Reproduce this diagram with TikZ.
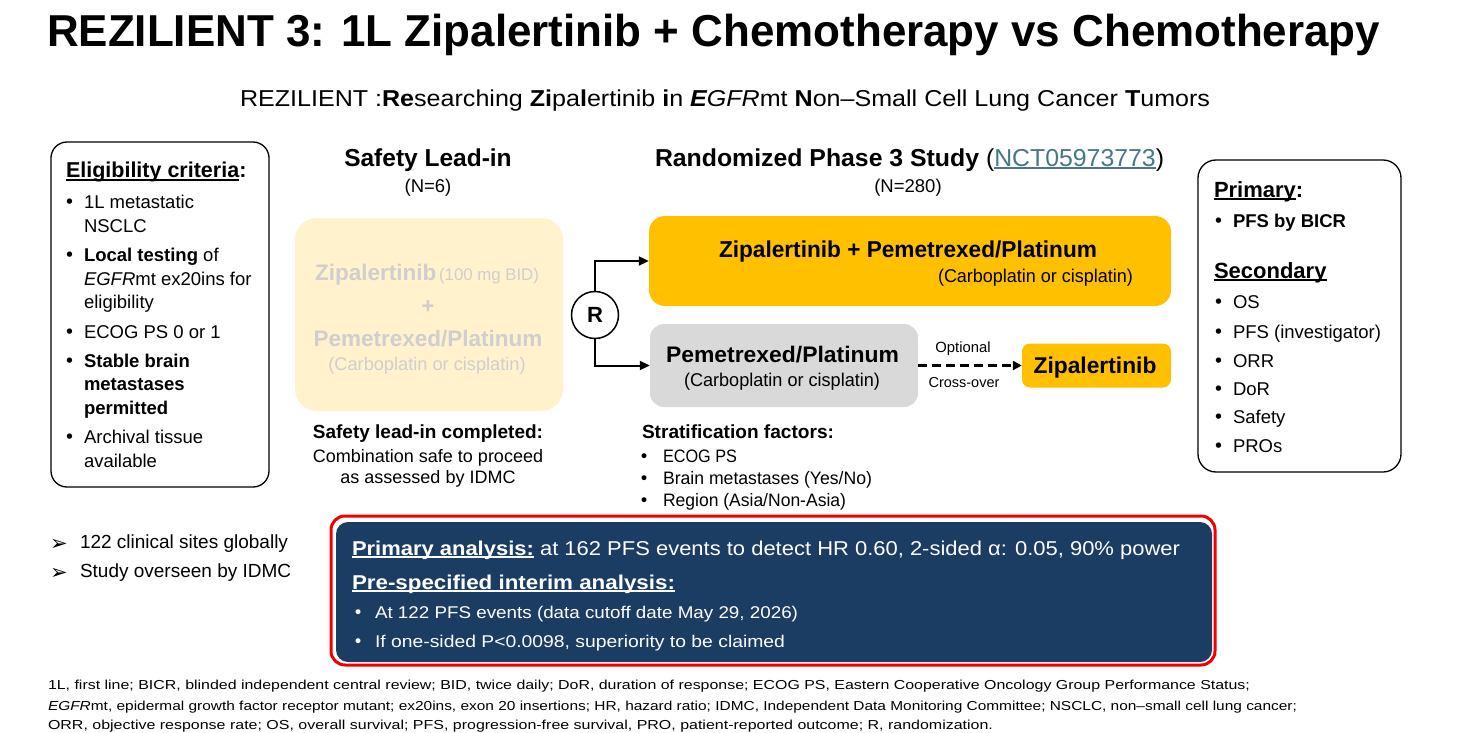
\documentclass[tikz,border=0pt]{standalone}
\usepackage{fontspec}
\setmainfont{Liberation Sans}
\setsansfont{Liberation Sans}
\newfontfamily\dejavu{DejaVu Sans}
\usepackage{graphicx}
\usetikzlibrary{arrows.meta}
\definecolor{gold}{HTML}{FFC000}
\definecolor{greybox}{HTML}{D9D9D9}
\definecolor{paleyellow}{HTML}{FFF2CC}
\definecolor{paletext}{HTML}{D0CECE}
\definecolor{navy}{HTML}{1B3C63}
\definecolor{redline}{HTML}{F00000}
\definecolor{link}{HTML}{467886}
\newcommand{\fs}[1]{\fontsize{#1}{#1}\selectfont}
\newcommand{\fw}[2]{\resizebox{#1pt}{\height}{#2}}
\newcommand{\bul}{{\dejavu •}}
\newsavebox\ulbox
\newcommand{\myul}[1]{\sbox\ulbox{#1}\rlap{\rule[-2.6pt]{\wd\ulbox}{1.4pt}}\usebox\ulbox}
\begin{document}
\begin{tikzpicture}[x=1pt,y=-1pt,
  txt/.style={inner sep=0pt, outer sep=0pt, anchor=base west},
  ctxt/.style={inner sep=0pt, outer sep=0pt, anchor=base},
  outlinebox/.style={draw=black, line width=1.3pt, rounded corners=16pt, inner sep=0pt},
  fillbox/.style={draw=none, inner sep=0pt},
  arr/.style={line width=2pt, -{Triangle[length=10pt,width=9pt]}},
  dasharr/.style={line width=3pt, dash pattern=on 9pt off 5pt, -{Triangle[length=9pt,width=9pt]}}]
\useasboundingbox (0,0) rectangle (1462,733);
\fill[white] (0,0) rectangle (1462,733);

% Title and subtitle
\node[txt] (title) at (47,47) {\fw{1333}{\fs{44.7}\bfseries REZILIENT 3: 1L Zipalertinib + Chemotherapy vs Chemotherapy}};
\node[txt] (subtitle) at (240,107) {\fw{970}{\fs{23}REZILIENT :\textbf{Re}searching \textbf{Zi}pa\textbf{l}ertinib \textbf{i}n \textit{\textbf{E}GFR}mt \textbf{N}on–Small Cell Lung Cancer \textbf{T}umors}};

% Eligibility box
\node[outlinebox, minimum width=218pt, minimum height=345pt] (elig) at (160,314.5) {};
\node[txt] (eligh) at (66,178) {\fs{21.5}\myul{\textbf{Eligibility criteria}}\textbf{:}};
\begin{scope}[every node/.style={txt}, font=\fs{18.5}]
\node (eb1) at (64,208) {\bul};
\node (e1) at (84,208) {1L metastatic};
\node (e2) at (84,232) {NSCLC};
\node (eb2) at (64,261) {\bul};
\node (e3) at (84,261) {\textbf{Local testing} of};
\node (e4) at (84,285) {\textit{EGFR}mt ex20ins for};
\node (e5) at (84,308) {eligibility};
\node (eb3) at (64,338) {\bul};
\node (e6) at (84,338) {ECOG PS 0 or 1};
\node (eb4) at (64,367) {\bul};
\node (e7) at (84,367) {\textbf{Stable brain}};
\node (e8) at (84,390) {\textbf{metastases}};
\node (e9) at (84,414) {\textbf{permitted}};
\node (eb5) at (64,443) {\bul};
\node (e10) at (84,443) {Archival tissue};
\node (e11) at (84,467) {available};
\end{scope}

% Safety lead-in
\node[ctxt] (slh) at (428,167) {\fs{24.5}\bfseries Safety Lead-in};
\node[ctxt] (sln) at (428,193) {\fs{18.5}(N=6)};
\node[fillbox, fill=paleyellow, rounded corners=22pt, minimum width=268pt, minimum height=193pt] (safe) at (429,314.5) {};
\begin{scope}[every node/.style={ctxt, text=paletext}]
\node (s1) at (427,280) {{\fs{22.5}\bfseries Zipalertinib} {\fs{16.8}(100 mg BID)}};
\node (s2) at (428,313) {\fs{22}\bfseries +};
\node (s3) at (428,346) {\fs{22.5}\bfseries Pemetrexed/Platinum};
\node (s4) at (427,370) {\fs{18.2}(Carboplatin or cisplatin)};
\end{scope}
\node[ctxt] (sc1) at (428,438) {\fs{19}\bfseries Safety lead-in completed:};
\node[ctxt] (sc2) at (428,462) {\fs{18}Combination safe to proceed};
\node[ctxt] (sc3) at (428,483) {\fs{18}as assessed by IDMC};

% Randomized study
\node[txt] (rh) at (655,166) {\fw{509}{\fs{24.5}\textbf{Randomized Phase 3 Study} (\textcolor{link}{\myul{NCT05973773}})}};
\node[ctxt] (rn) at (908,193) {\fs{18.5}(N=280)};
\node[fillbox, fill=gold, rounded corners=16pt, minimum width=522pt, minimum height=90pt] (arm1) at (910,261) {};
\node[txt] (a1t1) at (719,257) {\fw{378}{\fs{23}\bfseries Zipalertinib + Pemetrexed/Platinum}};
\node[txt] (a1t2) at (938,282) {\fw{195}{\fs{18.5}(Carboplatin or cisplatin)}};
\node[draw=black, line width=1.5pt, circle, minimum size=47pt, inner sep=0pt, fill=white] (R) at (595,315) {\fs{22}\bfseries R};
\node[fillbox, fill=greybox, rounded corners=14pt, minimum width=268pt, minimum height=83pt] (arm2) at (784,365.5) {};
\node[txt] (a2t1) at (666,362) {\fw{233}{\fs{22.5}\bfseries Pemetrexed/Platinum}};
\node[txt] (a2t2) at (684,386) {\fw{196}{\fs{18.5}(Carboplatin or cisplatin)}};
\node[fillbox, fill=gold, rounded corners=8pt, minimum width=149pt, minimum height=44pt] (zip) at (1096.5,365.5) {};
\node[ctxt] (zipt) at (1095,373) {\fs{22.8}\bfseries Zipalertinib};
\draw[arr] (R.north) |- (arm1.west);
\draw[arr] (R.south) |- (arm2.west);
\draw[dasharr] (arm2.east) -- (zip.west);
\node[ctxt] (opt) at (963,352) {\fs{14.8}Optional};
\node[ctxt] (cross) at (964,387) {\fs{14.5}Cross-over};
\node[txt] (strh) at (642,438) {\fw{192}{\fs{19}\bfseries Stratification factors:}};
\begin{scope}[every node/.style={txt}, font=\fs{17}]
\node (sb1) at (639,462) {\bul};
\node (st1) at (663,462) {\fw{74}{\fs{18}ECOG PS}};
\node (sb2) at (639,484) {\bul};
\node (st2) at (663,484) {\fw{209}{\fs{18}Brain metastases (Yes/No)}};
\node (sb3) at (639,506) {\bul};
\node (st3) at (663,506) {\fw{183}{\fs{18}Region (Asia/Non-Asia)}};
\end{scope}

% Endpoints box
\node[outlinebox, rounded corners=18pt, minimum width=203pt, minimum height=312pt] (endp) at (1299.5,316) {};
\node[txt] (ph) at (1214,197) {\fs{22}\myul{\textbf{Primary}}\textbf{:}};
\begin{scope}[every node/.style={txt}, font=\fs{18.5}]
\node (pb1) at (1213,227) {\bul};
\node (p1) at (1233,227) {\textbf{PFS by BICR}};
\end{scope}
\node[txt] (sh) at (1214,278) {\fs{22}\myul{\textbf{Secondary}}};
\begin{scope}[every node/.style={txt}, font=\fs{18.5}]
\node (qb1) at (1213,308) {\bul};
\node (q1) at (1233,308) {OS};
\node (qb2) at (1213,338) {\bul};
\node (q2) at (1233,338) {PFS (investigator)};
\node (qb3) at (1213,367) {\bul};
\node (q3) at (1233,367) {ORR};
\node (qb4) at (1213,395) {\bul};
\node (q4) at (1233,395) {DoR};
\node (qb5) at (1213,423) {\bul};
\node (q5) at (1233,423) {Safety};
\node (qb6) at (1213,452) {\bul};
\node (q6) at (1233,452) {PROs};
\end{scope}

% Left notes
\node[txt] (la1) at (50,550) {\dejavu\fs{21}➢};
\node[txt] (l1) at (80,548) {\fs{19}122 clinical sites globally};
\node[txt] (la2) at (50,579) {\dejavu\fs{21}➢};
\node[txt] (l2) at (80,577) {\fs{19}Study overseen by IDMC};

% Analysis box
\node[draw=redline, line width=3pt, fill=white, rounded corners=14pt, minimum width=884pt, minimum height=149pt, inner sep=0pt] (redbox) at (773,590.5) {};
\node[fillbox, fill=navy, rounded corners=12pt, minimum width=876pt, minimum height=140pt] (navybox) at (774,592) {};
\begin{scope}[every node/.style={txt, text=white}]
\node (b1) at (352,555) {\fw{828}{\fs{20}\myul{\textbf{Primary analysis:}} at 162 PFS events to detect HR 0.60, 2-sided α: 0.05, 90\% power}};
\node (b2) at (352,589) {\fw{323}{\fs{20}\myul{\textbf{Pre-specified interim analysis:}}}};
\node (bb1) at (353,618) {\fs{17}\bul};
\node (b3) at (375,618) {\fw{423}{\fs{17}At 122 PFS events (data cutoff date May 29, 2026)}};
\node (bb2) at (353,647) {\fs{17}\bul};
\node (b4) at (375,647) {\fw{410}{\fs{17}If one-sided P<0.0098, superiority to be claimed}};
\end{scope}

% Footnote
\node[txt] (f1) at (48,689) {\fw{1202}{\fs{13}1L, first line; BICR, blinded independent central review; BID, twice daily; DoR, duration of response; ECOG PS, Eastern Cooperative Oncology Group Performance Status;}};
\node[txt] (f2) at (48,710) {\fw{1249}{\fs{13}\textit{EGFR}mt, epidermal growth factor receptor mutant; ex20ins, exon 20 insertions; HR, hazard ratio; IDMC, Independent Data Monitoring Committee; NSCLC, non–small cell lung cancer;}};
\node[txt] (f3) at (48,729) {\fw{945}{\fs{13}ORR, objective response rate; OS, overall survival; PFS, progression-free survival, PRO, patient-reported outcome; R, randomization.}};
\end{tikzpicture}
\end{document}
